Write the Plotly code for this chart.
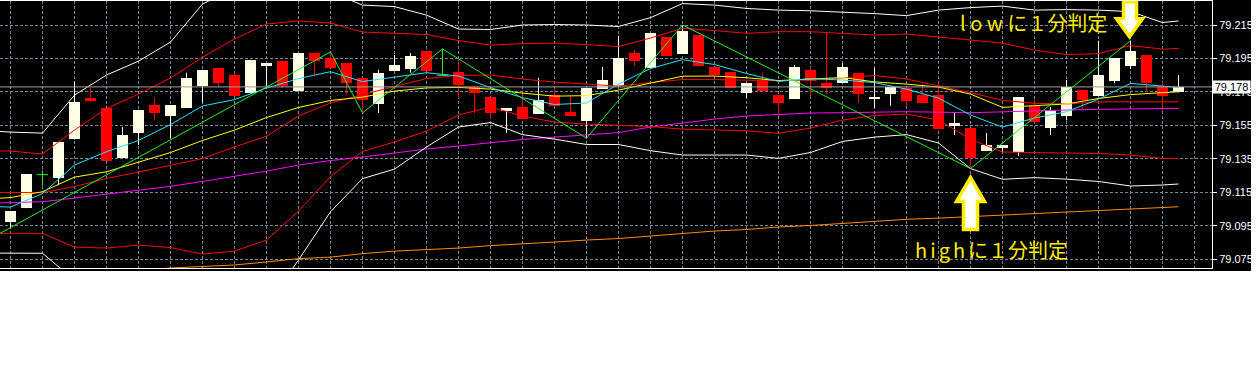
import plotly.graph_objects as go

# ---------------- data ----------------
bars = list(range(74))
open_ = [79.0972, 79.1056, 79.1256, 79.1236, 79.1466, 79.1715, 79.1655, 79.1356, 79.1505, 79.1671,
         79.1605, 79.1655, 79.1785, 79.1893, 79.1851, 79.1741, 79.1907, 79.1935, 79.1757, 79.1983,
         79.1953, 79.1923, 79.1833, 79.1679, 79.1877, 79.1887, 79.1995, 79.1849, 79.1869, 79.1777,
         79.1719, 79.1639, 79.1661, 79.1619, 79.1729, 79.1629, 79.1577, 79.1769, 79.1785, 79.1983,
         79.1893, 79.2077, 79.1977, 79.2090, 79.1899, 79.1869, 79.1743, 79.1821, 79.1731, 79.1707,
         79.1881, 79.1803, 79.1803, 79.1863, 79.1707, 79.1739, 79.1773, 79.1731, 79.1731, 79.1547,
         79.1535, 79.1398, 79.1418, 79.1392, 79.1669, 79.1532, 79.1607, 79.1759, 79.1727, 79.1817,
         79.1907, 79.1971, 79.1777, 79.1747]
high = [79.1036, 79.1258, 79.1280, 79.1452, 79.1811, 79.1775, 79.1655, 79.1540, 79.1641, 79.1715,
        79.1671, 79.1865, 79.1881, 79.1893, 79.1865, 79.1941, 79.1923, 79.1935, 79.1983, 79.1983,
        79.1989, 79.1923, 79.1833, 79.1883, 79.1971, 79.1983, 79.1995, 79.2007, 79.1941, 79.1789,
        79.1719, 79.1655, 79.1737, 79.1835, 79.1771, 79.1727, 79.1775, 79.1899, 79.2086, 79.2001,
        79.2102, 79.2077, 79.2150, 79.2090, 79.1899, 79.1869, 79.1803, 79.1863, 79.1731, 79.1911,
        79.1899, 79.2108, 79.1923, 79.1863, 79.1893, 79.1779, 79.1773, 79.1797, 79.1807, 79.1631,
        79.1535, 79.1505, 79.1432, 79.1717, 79.1701, 79.1661, 79.1821, 79.1759, 79.2056, 79.1951,
        79.2056, 79.1971, 79.1811, 79.1851]
low = [79.0934, 79.1056, 79.1190, 79.1192, 79.1466, 79.1697, 79.1338, 79.1356, 79.1432, 79.1581,
       79.1474, 79.1655, 79.1685, 79.1777, 79.1727, 79.1741, 79.1785, 79.1777, 79.1757, 79.1851,
       79.1893, 79.1737, 79.1625, 79.1625, 79.1877, 79.1865, 79.1875, 79.1845, 79.1715, 79.1625,
       79.1589, 79.1505, 79.1589, 79.1619, 79.1667, 79.1607, 79.1474, 79.1769, 79.1785, 79.1909,
       79.1893, 79.1965, 79.1977, 79.1905, 79.1851, 79.1773, 79.1715, 79.1755, 79.1607, 79.1707,
       79.1721, 79.1735, 79.1803, 79.1685, 79.1655, 79.1667, 79.1665, 79.1683, 79.1527, 79.1492,
       79.1292, 79.1398, 79.1392, 79.1368, 79.1569, 79.1492, 79.1580, 79.1645, 79.1727, 79.1801,
       79.1887, 79.1747, 79.1641, 79.1747]
close = [79.1036, 79.1258, 79.1256, 79.1452, 79.1691, 79.1697, 79.1338, 79.1492, 79.1641, 79.1625,
         79.1671, 79.1833, 79.1881, 79.1805, 79.1727, 79.1941, 79.1923, 79.1785, 79.1983, 79.1935,
         79.1893, 79.1801, 79.1701, 79.1865, 79.1911, 79.1965, 79.1875, 79.1849, 79.1789, 79.1741,
         79.1625, 79.1655, 79.1589, 79.1701, 79.1667, 79.1607, 79.1775, 79.1821, 79.1953, 79.1935,
         79.2102, 79.1965, 79.2114, 79.1905, 79.1851, 79.1773, 79.1803, 79.1755, 79.1683, 79.1899,
         79.1815, 79.1775, 79.1899, 79.1739, 79.1719, 79.1779, 79.1697, 79.1683, 79.1527, 79.1563,
         79.1356, 79.1432, 79.1432, 79.1717, 79.1569, 79.1643, 79.1777, 79.1699, 79.1851, 79.1951,
         79.1995, 79.1801, 79.1727, 79.1777]

line_bars = [-1, 0, 2, 4, 6, 8, 10, 12, 14, 16, 18, 20, 22, 24, 26, 28, 30, 32, 34, 36, 38, 40,
             42, 44, 46, 48, 50, 52, 54, 56, 58, 60, 62, 64, 66, 68, 70, 72, 73]
band_outer_upper = [79.1516, 79.1510, 79.1504, 79.1731, 79.1851, 79.1934, 79.2048, 79.2275, 79.2371, 79.2419,
                    79.2407, 79.2347, 79.2269, 79.2260, 79.2209, 79.2126, 79.2123, 79.2150, 79.2153, 79.2150,
                    79.2141, 79.2194, 79.2278, 79.2269, 79.2249, 79.2239, 79.2235, 79.2228, 79.2218, 79.2206,
                    79.2239, 79.2254, 79.2263, 79.2239, 79.2242, 79.2239, 79.2230, 79.2165, 79.2174]
band_outer_lower = [79.0787, 79.0786, 79.0786, 79.0626, 79.0566, 79.0530, 79.0507, 79.0489, 79.0471, 79.0471,
                    79.0746, 79.1034, 79.1232, 79.1289, 79.1421, 79.1540, 79.1567, 79.1495, 79.1468, 79.1436,
                    79.1436, 79.1399, 79.1373, 79.1373, 79.1373, 79.1353, 79.1388, 79.1454, 79.1480, 79.1495,
                    79.1445, 79.1292, 79.1228, 79.1238, 79.1229, 79.1215, 79.1188, 79.1194, 79.1200]
band_inner_upper = [79.1397, 79.1397, 79.1379, 79.1522, 79.1651, 79.1737, 79.1833, 79.1958, 79.2066, 79.2156,
                    79.2174, 79.2162, 79.2108, 79.2102, 79.2093, 79.2057, 79.2030, 79.2039, 79.2042, 79.2033,
                    79.2021, 79.2072, 79.2130, 79.2117, 79.2100, 79.2110, 79.2110, 79.2100, 79.2090, 79.2096,
                    79.2078, 79.2060, 79.2042, 79.2000, 79.1973, 79.1979, 79.2027, 79.2006, 79.2010]
band_inner_lower = [79.0905, 79.0905, 79.0905, 79.0823, 79.0817, 79.0835, 79.0820, 79.0781, 79.0799, 79.0865,
                    79.1038, 79.1244, 79.1394, 79.1451, 79.1516, 79.1612, 79.1660, 79.1606, 79.1570, 79.1558,
                    79.1552, 79.1543, 79.1528, 79.1524, 79.1518, 79.1503, 79.1534, 79.1582, 79.1609, 79.1618,
                    79.1582, 79.1468, 79.1391, 79.1388, 79.1385, 79.1382, 79.1373, 79.1353, 79.1353]
band_middle = [79.1150, 79.1150, 79.1148, 79.1185, 79.1233, 79.1271, 79.1313, 79.1352, 79.1421, 79.1486,
               79.1606, 79.1684, 79.1734, 79.1782, 79.1830, 79.1849, 79.1851, 79.1827, 79.1809, 79.1797,
               79.1785, 79.1806, 79.1824, 79.1824, 79.1821, 79.1817, 79.1821, 79.1835, 79.1848, 79.1827,
               79.1788, 79.1746, 79.1700, 79.1682, 79.1678, 79.1691, 79.1691, 79.1691, 79.1691]
ma_yellow = [79.1113, 79.1119, 79.1154, 79.1241, 79.1273, 79.1331, 79.1388, 79.1460, 79.1522, 79.1597,
             79.1657, 79.1699, 79.1719, 79.1755, 79.1774, 79.1777, 79.1767, 79.1743, 79.1725, 79.1728,
             79.1761, 79.1803, 79.1844, 79.1845, 79.1835, 79.1818, 79.1825, 79.1836, 79.1810, 79.1797,
             79.1779, 79.1737, 79.1658, 79.1666, 79.1678, 79.1711, 79.1734, 79.1746, 79.1751]
ma_cyan = [79.1065, 79.1062, 79.1143, 79.1313, 79.1393, 79.1460, 79.1555, 79.1666, 79.1704, 79.1773,
           79.1830, 79.1871, 79.1812, 79.1839, 79.1865, 79.1845, 79.1776, 79.1716, 79.1675, 79.1684,
           79.1797, 79.1890, 79.1943, 79.1914, 79.1860, 79.1813, 79.1830, 79.1821, 79.1806, 79.1767,
           79.1713, 79.1612, 79.1540, 79.1594, 79.1632, 79.1707, 79.1801, 79.1785, 79.1777]
ma_magenta = [79.1086, 79.1088, 79.1094, 79.1116, 79.1140, 79.1162, 79.1186, 79.1215, 79.1244, 79.1277,
              79.1313, 79.1340, 79.1361, 79.1385, 79.1409, 79.1427, 79.1448, 79.1466, 79.1480, 79.1492,
              79.1507, 79.1540, 79.1564, 79.1588, 79.1606, 79.1615, 79.1624, 79.1626, 79.1629, 79.1632,
              79.1629, 79.1626, 79.1631, 79.1638, 79.1642, 79.1646, 79.1649, 79.1651, 79.1652]
ma_orange = [79.0626, 79.0632, 79.0644, 79.0656, 79.0668, 79.0683, 79.0698, 79.0707, 79.0716, 79.0734,
             79.0754, 79.0763, 79.0784, 79.0799, 79.0808, 79.0817, 79.0832, 79.0841, 79.0853, 79.0865,
             79.0874, 79.0889, 79.0904, 79.0919, 79.0928, 79.0943, 79.0952, 79.0964, 79.0976, 79.0989,
             79.0996, 79.1005, 79.1014, 79.1023, 79.1035, 79.1044, 79.1053, 79.1060, 79.1064]
zigzag_bars = [-1, 20, 22, 27, 36, 42, 60, 70]
zigzag_price = [79.0887, 79.1989, 79.1625, 79.2007, 79.1474, 79.2150, 79.1292, 79.2056]

current_price = 79.178
y_ticks = [79.075, 79.095, 79.115, 79.135, 79.155, 79.175, 79.195, 79.215]
label_low_latin, label_low_cjk = "low", "に１分判定"
label_high_latin, label_high_cjk = "high", "に１分判定"
low_mark_bar = 70
high_mark_bar = 60

# ---------------- layout geometry ----------------
W, H = 1258, 378
PLOT_R = 1212      # px, right edge of plot area
PLOT_T, PLOT_B = 1, 268
BAR_PX = 16.0
BAR0_PX = 10.5
PX_PER_PRICE = 1673.6
y_top = y_ticks[-1] + (25 - PLOT_T) / PX_PER_PRICE
y_bot = y_ticks[-1] - (PLOT_B - 25) / PX_PER_PRICE
x_lo = (0 - BAR0_PX) / BAR_PX
x_hi = (PLOT_R - BAR0_PX) / BAR_PX


def px_to_paper(xp, yp):
    return xp / PLOT_R, (PLOT_B - yp) / (PLOT_B - PLOT_T)


BULL = "#FFFFE8"
BEAR = "#FF0000"
DOJI = "#22EE22"
YEL = "#FFEE00"
GRID = "#778899"
DASH = "3px,2px"

fig = go.Figure()

def wick_xy(idx):
    xs, ys = [], []
    for i in idx:
        xs += [i, i, None]
        ys += [low[i], high[i], None]
    return xs, ys

bull = [i for i in bars if close[i] > open_[i]]
bear = [i for i in bars if close[i] < open_[i]]
doji = [i for i in bars if close[i] == open_[i]]

for idx, col in ((bull, BULL), (bear, BEAR)):
    xs, ys = wick_xy(idx)
    fig.add_trace(go.Scatter(x=xs, y=ys, mode="lines", line=dict(color=col, width=1),
                             hoverinfo="skip", showlegend=False))

body_w = 11 / 16
for idx, col in ((bull, BULL), (bear, BEAR)):
    fig.add_trace(go.Bar(x=idx,
                         y=[abs(close[i] - open_[i]) for i in idx],
                         base=[min(close[i], open_[i]) for i in idx],
                         width=body_w, marker=dict(color=col, line=dict(width=0)),
                         hoverinfo="skip", showlegend=False))

dx, dy = [], []
for i in doji:
    dx += [i - body_w / 2, i + body_w / 2, None, i, i, None]
    dy += [open_[i], open_[i], None, low[i], high[i], None]
fig.add_trace(go.Scatter(x=dx, y=dy, mode="lines", line=dict(color=DOJI, width=1),
                         hoverinfo="skip", showlegend=False))

for vals, col in ((ma_orange, "#FF8C00"), (ma_magenta, "#FF00FF"),
                  (band_outer_upper, "#FFFFF0"), (band_outer_lower, "#FFFFF0"),
                  (band_inner_upper, "#FF0000"), (band_inner_lower, "#FF0000"),
                  (band_middle, "#FF0000"), (ma_yellow, "#FFFF00"), (ma_cyan, "#22E4F8")):
    fig.add_trace(go.Scatter(x=line_bars, y=vals, mode="lines", line=dict(color=col, width=1),
                             hoverinfo="skip", showlegend=False))

fig.add_trace(go.Scatter(x=zigzag_bars, y=zigzag_price, mode="lines",
                         line=dict(color=DOJI, width=1), hoverinfo="skip", showlegend=False))

shapes = []
shapes.append(dict(type="rect", xref="paper", yref="paper", x0=0, x1=1251 / PLOT_R,
                   y0=(PLOT_B - 271) / (PLOT_B - PLOT_T), y1=(PLOT_B - 0) / (PLOT_B - PLOT_T),
                   fillcolor="black", line=dict(width=0), layer="below"))
shapes.append(dict(type="line", xref="paper", yref="y", x0=0, x1=1, y0=current_price, y1=current_price,
                   line=dict(color="#A0A0A0", width=1), layer="above"))
shapes.append(dict(type="path", xref="x", yref="y", xsizemode="pixel", ysizemode="pixel",
                   xanchor=low_mark_bar, yanchor=high[low_mark_bar],
                   path="M -1,4 L -14,22 L -7,22 L -7,39 L 6,39 L 6,22 L 12,22 Z",
                   fillcolor="white", line=dict(color=YEL, width=3.5), layer="above"))
shapes.append(dict(type="path", xref="x", yref="y", xsizemode="pixel", ysizemode="pixel",
                   xanchor=high_mark_bar, yanchor=low[high_mark_bar],
                   path="M 0,-9 L -14,-33 L -7,-33 L -7,-61 L 7,-61 L 7,-33 L 14,-33 Z",
                   fillcolor="white", line=dict(color=YEL, width=3.5), layer="above"))

annotations = []
ax, ay = px_to_paper(958, 23)
annotations.append(dict(xref="paper", yref="paper", x=ax, y=ay,
                        text=f'<span style="letter-spacing:4.5px">{label_low_latin}</span>{label_low_cjk}',
                        showarrow=False, xanchor="left", yanchor="middle",
                        font=dict(family="Noto Sans CJK JP", size=20, color=YEL)))
ax, ay = px_to_paper(913, 249)
annotations.append(dict(xref="paper", yref="paper", x=ax, y=ay,
                        text=f'<span style="letter-spacing:3px">{label_high_latin}</span>{label_high_cjk}',
                        showarrow=False, xanchor="left", yanchor="middle",
                        font=dict(family="Noto Sans CJK JP", size=20, color=YEL)))
annotations.append(dict(xref="paper", yref="y", x=1, y=current_price, text=f"{current_price:.3f}",
                        showarrow=False, xanchor="left", yanchor="middle", bgcolor="white",
                        width=37, height=12, borderpad=0,
                        font=dict(family="Liberation Sans, Arial", size=11, color="black")))

fig.update_layout(
    width=W, height=H,
    margin=dict(l=0, r=W - PLOT_R, t=PLOT_T, b=H - PLOT_B),
    paper_bgcolor="white", plot_bgcolor="black",
    barmode="overlay", bargap=0,
    showlegend=False,
    shapes=shapes, annotations=annotations,
    xaxis=dict(range=[x_lo, x_hi], tick0=0, dtick=2, showticklabels=False, ticks="",
               showgrid=True, gridcolor=GRID, griddash=DASH, gridwidth=1,
               zeroline=False, showline=True, linecolor="white", linewidth=1, mirror=True),
    yaxis=dict(range=[y_bot, y_top], side="right", tickvals=y_ticks, tickformat=".3f",
               showgrid=True, gridcolor=GRID, griddash=DASH, gridwidth=1,
               zeroline=False, showline=True, linecolor="white", linewidth=1,
               ticks="outside", ticklen=4, tickcolor="white",
               tickfont=dict(family="Liberation Sans, Arial", size=11, color="white")),
)

fig.write_html("out.html")
